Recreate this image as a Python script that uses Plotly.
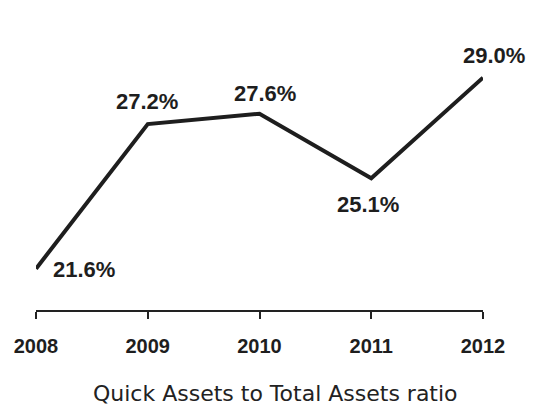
import plotly.graph_objects as go

years = [2008, 2009, 2010, 2011, 2012]
ratio = [21.6, 27.2, 27.6, 25.1, 29.0]
labels = ["21.6%", "27.2%", "27.6%", "25.1%", "29.0%"]
tick_labels = ["2008", "2009", "2010", "2011", "2012"]
title_text = "Quick Assets to Total Assets ratio"

# label offsets (pixels) relative to each point
label_dx = [48, -1, 5, -3, 11]
label_dy = [-1, 23, 20, -26, 22]

fig = go.Figure()
fig.add_trace(go.Scatter(
    x=years, y=ratio, mode="lines",
    line=dict(color="#1e1e1e", width=4),
    cliponaxis=False, hoverinfo="skip",
))

for x, y, t, dx, dy in zip(years, ratio, labels, label_dx, label_dy):
    fig.add_annotation(
        x=x, y=y, text=t, showarrow=False,
        xshift=dx, yshift=dy,
        font=dict(family="Liberation Sans, Arial", size=22, color="#1e1e1e", weight="bold"),
        xanchor="center", yanchor="middle",
    )

fig.add_annotation(
    x=0.535, y=-83 / 284, xref="paper", yref="paper",
    text=title_text, showarrow=False, xanchor="center", yanchor="middle",
    font=dict(family="DejaVu Sans", size=22, color="#222222"),
)

fig.update_layout(
    width=536, height=406,
    margin=dict(l=36, r=53, t=26, b=96),
    paper_bgcolor="white", plot_bgcolor="white",
    showlegend=False,
    xaxis=dict(
        range=[2008, 2012], tickvals=years, ticktext=tick_labels,
        showgrid=False, zeroline=False,
        showline=True, linecolor="#222222", linewidth=2,
        ticks="outside", ticklen=7, tickwidth=2, tickcolor="#222222",
        ticklabelstandoff=10,
        tickfont=dict(family="Liberation Sans, Arial", size=20, color="#1e1e1e", weight="bold"),
    ),
    yaxis=dict(
        range=[20, 31], visible=False, showgrid=False, zeroline=False,
    ),
)

fig.write_html(
    "out.html",
    config={"displayModeBar": False},
    post_script="document.body.style.margin='0';document.body.style.padding='0';document.body.style.overflow='hidden';",
)
